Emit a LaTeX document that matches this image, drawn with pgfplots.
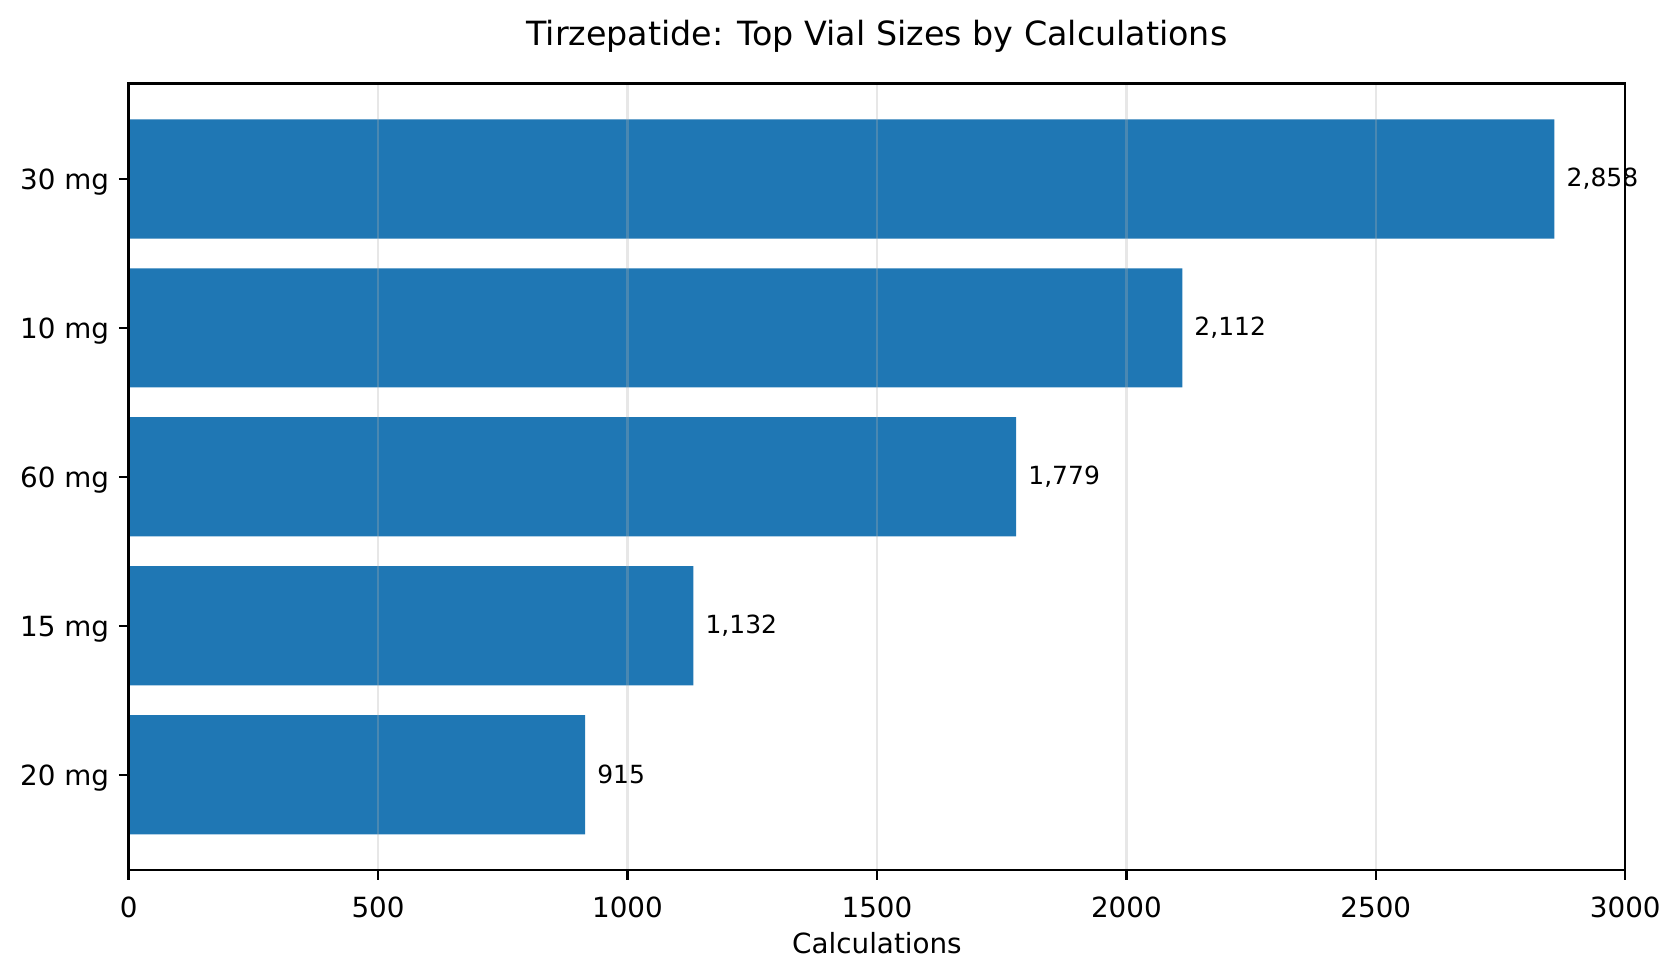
\documentclass[border=0pt]{standalone}
\usepackage{fontspec}
\setmainfont{DejaVu Sans}
\usepackage{pgfplots}
\pgfplotsset{compat=1.18}
\definecolor{barblue}{HTML}{1F77B4}
\definecolor{gridgray}{HTML}{B0B0B0}

\begin{document}
\begin{tikzpicture}
\begin{axis}[
  name=ax,
  scale only axis, width=538.8pt, height=283.1pt,
  xbar, bar width=0.8, bar shift=0pt,
  xmin=0, xmax=3000, ymin=-0.64, ymax=4.64,
  xtick={0,500,...,3000}, ytick={0,1,2,3,4},
  yticklabels={20 mg,15 mg,60 mg,10 mg,30 mg},
  tick align=outside, major tick length=3.5pt,
  tick pos=left,
  tick style={black, line width=0.8pt},
  axis line style={black, line width=0.8pt},
  xmajorgrids, ymajorgrids=false,
  grid style={gridgray, opacity=0.3, line width=0.8pt},
  axis on top,
  clip=false,
  /pgf/number format/assume math mode=true,
  ticklabel style={font=\fontsize{10}{12}\selectfont},
  xticklabel style={/pgf/number format/1000 sep={}, yshift=-2.7pt},
  yticklabel style={yshift=-1.2pt},
  nodes near coords,
  every node near coord/.append style={font=\fontsize{9}{11}\selectfont, anchor=west, inner sep=0pt, xshift=4.2pt, black,
    /pgf/number format/1000 sep={,}, /pgf/number format/assume math mode=true},
  title={Tirzepatide: Top Vial Sizes by Calculations},
  title style={at={(axis description cs:0.5,1)}, anchor=base, yshift=7.7pt, inner sep=0pt, font=\fontsize{12}{14.4}\selectfont},
  xlabel={Calculations},
  xlabel style={at={(axis description cs:0.5,0)}, anchor=base, yshift=-29.9pt, inner sep=0pt, font=\fontsize{10}{12}\selectfont},
]
\addplot[fill=barblue, draw=none] coordinates {(915,0) (1132,1) (1779,2) (2112,3) (2858,4)};
\end{axis}
\pgfresetboundingbox
\path[use as bounding box] ([xshift=-46.3pt,yshift=-38.5pt]ax.south west) rectangle ([xshift=19.7pt,yshift=30.1pt]ax.north east);
\end{tikzpicture}
\end{document}
